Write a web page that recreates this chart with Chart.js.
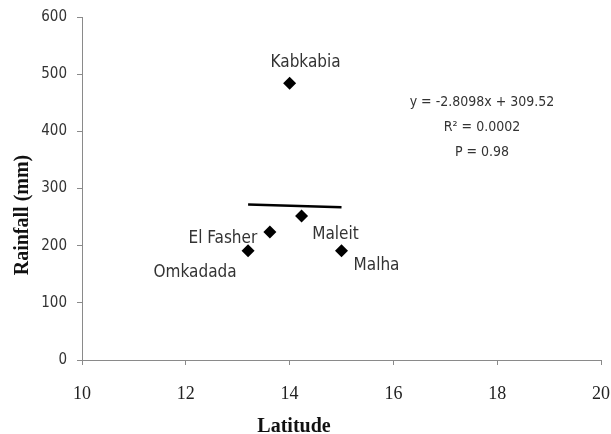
<!DOCTYPE html>
<html>
<head>
<meta charset="utf-8">
<script src="https://cdn.jsdelivr.net/npm/chart.js@4"></script>
<style>
  html, body { margin: 0; padding: 0; background: #fff; }
  #wrap { width: 611px; height: 434px; }
</style>
</head>
<body>
<div id="wrap"><canvas id="scatterChart" width="611" height="434"></canvas></div>
<script>
// values
const stations = ['Omkadada', 'El Fasher', 'Kabkabia', 'Maleit', 'Malha'];
const latitude = [13.2, 13.62, 14.0, 14.23, 15.0];      // x values (deg N)
const rainfall = [191, 224, 484, 252, 191];             // y values (mm)
const trendLat = [13.2, 15.0];                          // trend line ends (x)
const trendRain = [272, 267];                           // trend line ends (y)
const xTicks = [10, 12, 14, 16, 18, 20];
const yTicks = [0, 100, 200, 300, 400, 500, 600];
const statsText = ['y = -2.8098x + 309.52', 'R\u00B2 = 0.0002', 'P = 0.98'];

// label placement relative to each marker (pixels)
const labelOffsets = [[-53, 22], [-47, 7], [16, -21], [34, 19], [35, 15]];

const sansFont = '"DejaVu Sans Condensed", "Liberation Sans Narrow", "DejaVu Sans", sans-serif';
const serifFont = '"Liberation Serif", "DejaVu Serif", serif';
const axisGray = '#8a8a8a';

// station names next to points, stats text, axis titles
const textPlugin = {
    id: 'textPlugin',
    afterDatasetsDraw(chart) {
        const ctx = chart.ctx;
        const meta = chart.getDatasetMeta(0);
        ctx.save();
        ctx.fillStyle = '#333';
        ctx.textAlign = 'center';
        ctx.textBaseline = 'middle';
        ctx.font = '17px ' + sansFont;
        meta.data.forEach((pt, i) => {
            ctx.fillText(stations[i], pt.x + labelOffsets[i][0], pt.y + labelOffsets[i][1]);
        });

        ctx.font = '14px ' + sansFont;
        statsText.forEach((line, i) => {
            ctx.fillText(line, 482, 102 + i * 25);
        });

        ctx.fillStyle = '#111';
        ctx.font = 'bold 20px ' + serifFont;
        ctx.fillText('Latitude', 294, 427);

        ctx.translate(23, 215);
        ctx.rotate(-Math.PI / 2);
        ctx.fillText('Rainfall (mm)', 0, 0);
        ctx.restore();
    }
};

const ctx = document.getElementById('scatterChart');

const myChart = new Chart(ctx, {
    type: 'scatter',
    data: {
        datasets: [
            {
                label: 'Stations',
                data: latitude.map((x, i) => ({x: x, y: rainfall[i]})),
                pointStyle: 'rectRot',
                pointRadius: 6.5,
                pointHoverRadius: 6.5,
                backgroundColor: '#000',
                borderColor: '#000',
                borderWidth: 0
            },
            {
                label: 'Trend',
                type: 'line',
                data: trendLat.map((x, i) => ({x: x, y: trendRain[i]})),
                borderColor: '#000',
                borderWidth: 2.5,
                pointRadius: 0,
                fill: false
            }
        ]
    },
    options: {
        responsive: false,
        animation: false,
        layout: {
            padding: {left: 0, right: 10, top: 17, bottom: 0}
        },
        scales: {
            x: {
                type: 'linear',
                min: 10,
                max: 20,
                afterBuildTicks: scale => { scale.ticks = xTicks.map(v => ({value: v})); },
                afterFit: scale => {
                    scale.height = 74;
                    scale.paddingLeft = 0;
                    scale.paddingRight = 0;
                },
                ticks: {
                    padding: 18,
                    color: '#222',
                    font: {family: serifFont, size: 18}
                },
                grid: {
                    drawOnChartArea: false,
                    drawTicks: true,
                    tickLength: 5,
                    color: axisGray
                },
                border: {color: axisGray, width: 1}
            },
            y: {
                type: 'linear',
                min: 0,
                max: 600,
                afterBuildTicks: scale => { scale.ticks = yTicks.map(v => ({value: v})); },
                afterFit: scale => {
                    scale.width = 82;
                    scale.paddingTop = 0;
                    scale.paddingBottom = 0;
                },
                ticks: {
                    padding: 10,
                    color: '#333',
                    font: {family: sansFont, size: 15}
                },
                grid: {
                    drawOnChartArea: false,
                    drawTicks: true,
                    tickLength: 5,
                    color: axisGray
                },
                border: {color: axisGray, width: 1}
            }
        },
        plugins: {
            legend: {display: false},
            tooltip: {enabled: false}
        }
    },
    plugins: [textPlugin]
});
</script>
</body>
</html>
